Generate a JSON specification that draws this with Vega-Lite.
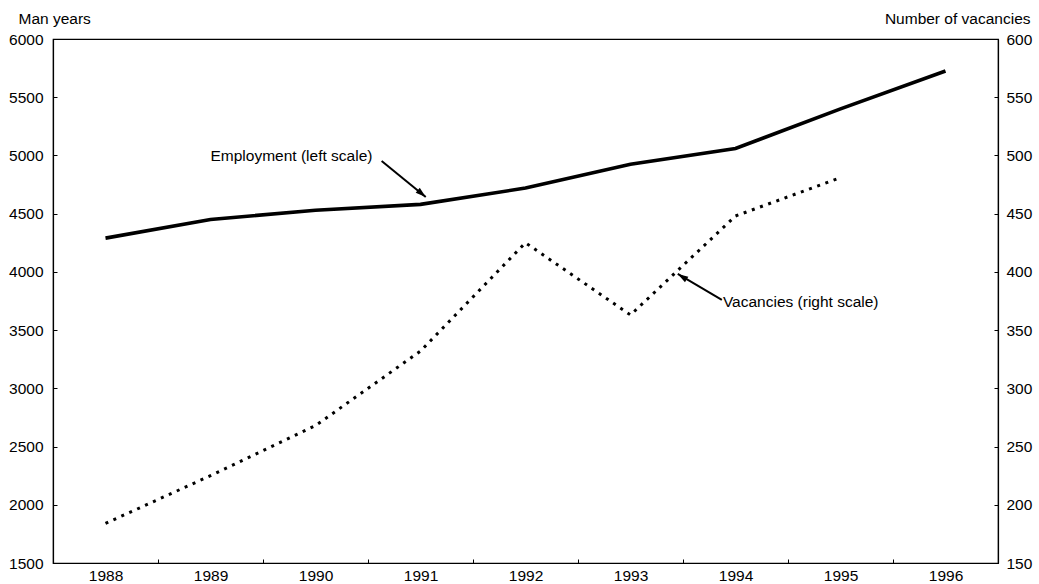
{
  "$schema": "https://vega.github.io/schema/vega-lite/v6.json",
  "width": 945,
  "height": 524,
  "autosize": "none",
  "padding": {"left": 53, "top": 39, "right": 41, "bottom": 21},
  "background": "white",
  "config": {
    "view": {"stroke": "black", "strokeWidth": 1.2},
    "font": "Liberation Sans",
    "axis": {
      "labelFont": "Liberation Sans",
      "labelFontSize": 15.5,
      "labelColor": "black",
      "domainColor": "black",
      "domainWidth": 1.2,
      "tickColor": "black",
      "grid": false,
      "titleFont": "Liberation Sans",
      "titleFontSize": 15.5,
      "titleFontWeight": "normal",
      "titleColor": "black"
    }
  },
  "datasets": {
    "series": [
      {"year": 1988, "employment": 4290, "vacancies": 184},
      {"year": 1989, "employment": 4450, "vacancies": 225},
      {"year": 1990, "employment": 4530, "vacancies": 268},
      {"year": 1991, "employment": 4580, "vacancies": 332},
      {"year": 1992, "employment": 4720, "vacancies": 425},
      {"year": 1993, "employment": 4925, "vacancies": 363},
      {"year": 1994, "employment": 5060, "vacancies": 448},
      {"year": 1995, "employment": 5400, "vacancies": 481},
      {"year": 1996, "employment": 5725, "vacancies": null}
    ],
    "labels": [
      {"label": "Employment (left scale)", "x": 1989.0, "y": 4995},
      {"label": "Vacancies (right scale)", "x": 1993.88, "y": 3741}
    ],
    "arrow1": [{"x": 1990.63, "y": 4952, "x2": 1991.05, "y2": 4643}],
    "arrow2": [{"x": 1993.87, "y": 3759, "x2": 1993.45, "y2": 3982}]
  },
  "layer": [
    {
      "layer": [
        {
          "data": {"name": "series"},
          "mark": {"type": "line", "color": "black", "strokeWidth": 3.6},
          "encoding": {
            "x": {
              "field": "year", "type": "quantitative",
              "scale": {"domain": [1987.5, 1996.5], "nice": false, "zero": false},
              "axis": {
                "values": [1988.5, 1989.5, 1990.5, 1991.5, 1992.5, 1993.5, 1994.5, 1995.5, 1996.5],
                "labelExpr": "format(datum.value - 0.5, 'd')",
                "labelOffset": -52.5,
                "labelFlush": false,
                "labelOverlap": false,
                "labelBound": false,
                "tickSize": -4,
                "labelPadding": 9,
                "title": null
              }
            },
            "y": {
              "field": "employment", "type": "quantitative",
              "scale": {"domain": [1500, 6000], "nice": false, "zero": false},
              "axis": {
                "values": [1500, 2000, 2500, 3000, 3500, 4000, 4500, 5000, 5500, 6000],
                "format": "d",
                "tickSize": -4,
                "labelPadding": 14,
                "title": "Man years",
                "titleAngle": 0,
                "titleX": -35,
                "titleY": -21,
                "titleAlign": "left",
                "titleBaseline": "middle"
              }
            }
          }
        },
        {
          "data": {"name": "labels"},
          "mark": {"type": "text", "align": "left", "baseline": "middle", "fontSize": 15.5, "font": "Liberation Sans", "color": "black"},
          "encoding": {
            "x": {"field": "x", "type": "quantitative"},
            "y": {"field": "y", "type": "quantitative"},
            "text": {"field": "label"}
          }
        },
        {
          "data": {"name": "arrow1"},
          "mark": {"type": "rule", "color": "black", "strokeWidth": 2},
          "encoding": {
            "x": {"field": "x", "type": "quantitative"},
            "y": {"field": "y", "type": "quantitative"},
            "x2": {"field": "x2"},
            "y2": {"field": "y2"}
          }
        },
        {
          "data": {"name": "arrow1"},
          "mark": {"type": "point", "shape": "M0,0L-0.3,1L0.3,1Z", "filled": true, "color": "black", "size": 440, "opacity": 1, "angle": 130},
          "encoding": {
            "x": {"field": "x2", "type": "quantitative"},
            "y": {"field": "y2", "type": "quantitative"}
          }
        },
        {
          "data": {"name": "arrow2"},
          "mark": {"type": "rule", "color": "black", "strokeWidth": 2},
          "encoding": {
            "x": {"field": "x", "type": "quantitative"},
            "y": {"field": "y", "type": "quantitative"},
            "x2": {"field": "x2"},
            "y2": {"field": "y2"}
          }
        },
        {
          "data": {"name": "arrow2"},
          "mark": {"type": "point", "shape": "M0,0L-0.3,1L0.3,1Z", "filled": true, "color": "black", "size": 440, "opacity": 1, "angle": 302},
          "encoding": {
            "x": {"field": "x2", "type": "quantitative"},
            "y": {"field": "y2", "type": "quantitative"}
          }
        }
      ]
    },
    {
      "data": {"name": "series"},
      "mark": {"type": "line", "color": "black", "strokeWidth": 3, "strokeDash": [3, 5.7], "strokeCap": "butt"},
      "encoding": {
        "x": {"field": "year", "type": "quantitative"},
        "y": {
          "field": "vacancies", "type": "quantitative",
          "scale": {"domain": [150, 600], "nice": false, "zero": false},
          "axis": {
            "orient": "right",
            "values": [150, 200, 250, 300, 350, 400, 450, 500, 550, 600],
            "tickSize": -4,
            "labelPadding": 12,
            "title": "Number of vacancies",
            "titleAngle": 0,
            "titleX": 32,
            "titleY": -21,
            "titleAlign": "right",
            "titleBaseline": "middle"
          }
        }
      }
    }
  ],
  "resolve": {"scale": {"y": "independent"}, "axis": {"y": "independent"}}
}
